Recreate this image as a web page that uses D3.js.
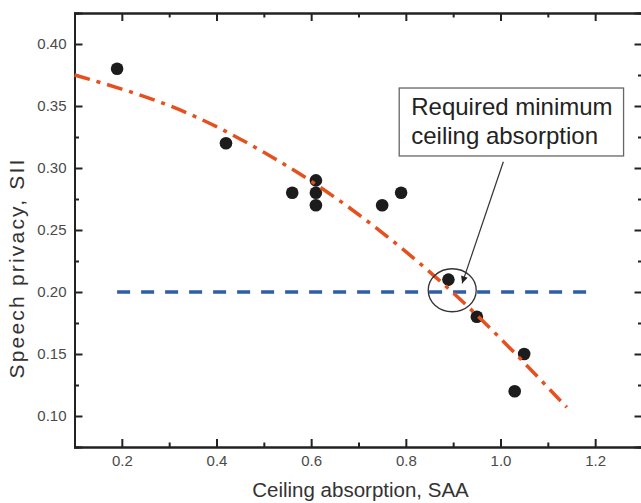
<!DOCTYPE html>
<html>
<head>
<meta charset="utf-8">
<script src="https://cdn.jsdelivr.net/npm/d3@7"></script>
<style>
  html, body { margin: 0; padding: 0; background: #fff; }
  svg { display: block; }
  text { font-family: "Liberation Sans", Arial, Helvetica, sans-serif; }
</style>
</head>
<body>
<svg id="chart" width="641" height="503"></svg>
<script>
// Measured ceiling absorption (SAA) vs. speech privacy (SII)
const saa = [0.19, 0.42, 0.56, 0.61, 0.61, 0.61, 0.75, 0.79, 0.89, 0.95, 1.05, 1.03];
const sii = [0.38, 0.32, 0.28, 0.29, 0.28, 0.27, 0.27, 0.28, 0.21, 0.18, 0.15, 0.12];

// Fitted trend curve
const fitSaa = [0.10, 0.20, 0.30, 0.40, 0.50, 0.60, 0.70, 0.80, 0.90, 1.00, 1.10, 1.14];
const fitSii = [0.375, 0.364, 0.351, 0.334, 0.313, 0.290, 0.263, 0.233, 0.200, 0.163, 0.123, 0.107];

// Privacy criterion line
const criterionSaa = [0.19, 1.20];
const criterionSii = 0.20;

// Axis ticks
const xTicks = [0.2, 0.4, 0.6, 0.8, 1.0, 1.2];
const xMinor = [0.3, 0.5, 0.7, 0.9, 1.1];
const yTicks = [0.10, 0.15, 0.20, 0.25, 0.30, 0.35, 0.40];
const yMinor = [0.125, 0.175, 0.225, 0.275, 0.325, 0.375];

const annotationLines = ["Required minimum", "ceiling absorption"];

const svg = d3.select("#chart");
const x = d3.scaleLinear().domain([0.1, 1.3]).range([74.5, 642.5]);
const y = d3.scaleLinear().domain([0.075, 0.425]).range([447, 13]);

const axisColor = "#222";
const labelColor = "#4a4a4a";

// Inward ticks on all four sides
function inwardAxis(axisFn, scale, ticks, minor, showLabels) {
  const g = svg.append("g");
  const major = axisFn(scale).tickValues(ticks).tickSize(-8).tickPadding(8)
    .tickFormat(showLabels ? (axisFn === d3.axisLeft ? d3.format(".2f") : d3.format(".1f")) : "");
  const min = axisFn(scale).tickValues(minor).tickSize(-4.5).tickFormat("");
  g.append("g").call(major);
  g.append("g").call(min);
  g.selectAll(".domain").attr("stroke", axisColor).attr("stroke-width", 2);
  g.selectAll(".tick line").attr("stroke", axisColor).attr("stroke-width", 2);
  g.selectAll(".tick text").attr("fill", labelColor).style("font-size", "15px");
  return g;
}

inwardAxis(d3.axisBottom, x, xTicks, xMinor, true).attr("transform", `translate(0,${y(0.075)})`);
inwardAxis(d3.axisTop, x, xTicks, xMinor, false).attr("transform", `translate(0,${y(0.425)})`);
inwardAxis(d3.axisLeft, y, yTicks, yMinor, true).attr("transform", `translate(${x(0.1)},0)`);
inwardAxis(d3.axisRight, y, yTicks, yMinor, false).attr("transform", `translate(${x(1.3)},0)`);

// Axis titles
svg.append("text")
  .attr("x", (x(0.1) + x(1.3)) / 2 + 2)
  .attr("y", 497)
  .attr("text-anchor", "middle")
  .attr("fill", "#333")
  .style("font-size", "20.5px")
  .text("Ceiling absorption, SAA");

svg.append("text")
  .attr("transform", `translate(24,${(y(0.075) + y(0.425)) / 2 + 38}) rotate(-90)`)
  .attr("text-anchor", "middle")
  .attr("fill", "#333")
  .style("font-size", "21px")
  .style("letter-spacing", "2.2px")
  .text("Speech privacy, SII");

// Criterion line
svg.append("line")
  .attr("x1", x(criterionSaa[0])).attr("x2", x(criterionSaa[1]))
  .attr("y1", y(criterionSii)).attr("y2", y(criterionSii))
  .attr("stroke", "#2d5ea6")
  .attr("stroke-width", 3.5)
  .attr("stroke-dasharray", "13,11");

// Measured points
svg.append("g").selectAll("circle")
  .data(saa.map((v, i) => [v, sii[i]]))
  .join("circle")
  .attr("cx", d => x(d[0]))
  .attr("cy", d => y(d[1]))
  .attr("r", 6.3)
  .attr("fill", "#1c1c1c");

// Trend curve
const fitLine = d3.line().x(d => x(d[0])).y(d => y(d[1])).curve(d3.curveBasis);
svg.append("path")
  .datum(fitSaa.map((v, i) => [v, fitSii[i]]))
  .attr("d", fitLine)
  .attr("fill", "none")
  .attr("stroke", "#e5501f")
  .attr("stroke-width", 3.5)
  .attr("stroke-dasharray", "16,7,4,7");

// Highlight of the intersection
svg.append("ellipse")
  .attr("cx", x(0.898)).attr("cy", y(0.2014))
  .attr("rx", 24).attr("ry", 21.5)
  .attr("fill", "none")
  .attr("stroke", "#333")
  .attr("stroke-width", 1.3);

// Arrow from the note to the intersection
svg.append("defs").append("marker")
  .attr("id", "head")
  .attr("viewBox", "0 0 10 10")
  .attr("refX", 10).attr("refY", 5)
  .attr("markerWidth", 9).attr("markerHeight", 7)
  .attr("markerUnits", "userSpaceOnUse")
  .attr("orient", "auto")
  .append("path").attr("d", "M0,0 L10,5 L0,10 Z").attr("fill", "#222");

svg.append("line")
  .attr("x1", x(1.006)).attr("y1", y(0.305))
  .attr("x2", x(0.919)).attr("y2", y(0.207))
  .attr("stroke", "#333")
  .attr("stroke-width", 1.2)
  .attr("marker-end", "url(#head)");

// Note box
const bx0 = x(0.786), bx1 = x(1.26), by0 = y(0.3645), by1 = y(0.3097);
svg.append("rect")
  .attr("x", bx0).attr("y", by0)
  .attr("width", bx1 - bx0).attr("height", by1 - by0)
  .attr("fill", "#fff")
  .attr("stroke", "#666")
  .attr("stroke-width", 1.3);

svg.append("g").selectAll("text")
  .data(annotationLines)
  .join("text")
  .attr("x", bx0 + 12)
  .attr("y", (d, i) => by0 + 27 + i * 29)
  .attr("fill", "#222")
  .style("font-size", "24px")
  .text(d => d);
</script>
</body>
</html>
